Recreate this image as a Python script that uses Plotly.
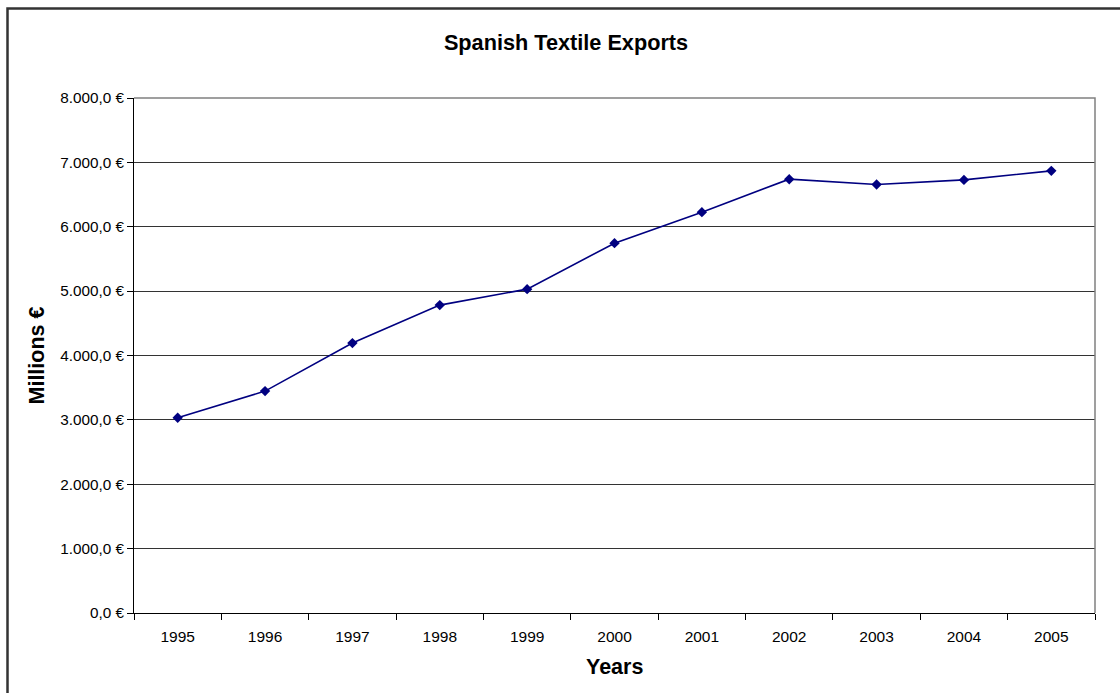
import plotly.graph_objects as go

years = ["1995", "1996", "1997", "1998", "1999", "2000", "2001", "2002", "2003", "2004", "2005"]
exports = [3033, 3447, 4193, 4783, 5031, 5745, 6227, 6739, 6657, 6728, 6868]
y_ticks = [0, 1000, 2000, 3000, 4000, 5000, 6000, 7000, 8000]


def eur(v):
    s = f"{v:,.1f}"  # 8,000.0
    s = s.replace(",", "X").replace(".", ",").replace("X", ".")
    return s + " €"


y_ticktext = [eur(v) for v in y_ticks]

W, H = 1120, 693
L, R, T, B = 134, 25, 98, 80
pw, ph = W - L - R, H - T - B


def px_x(p):
    return (p - L) / pw


def px_y(p):
    return (H - B - p) / ph


font = "Liberation Sans, Arial, sans-serif"

fig = go.Figure()
fig.add_trace(go.Scatter(
    x=years, y=exports, mode="lines+markers",
    line=dict(color="#000080", width=1.6),
    marker=dict(symbol="diamond", size=8, color="#000080"),
    showlegend=False,
))

fig.update_layout(
    width=W, height=H,
    margin=dict(l=L, r=R, t=T, b=B),
    paper_bgcolor="white", plot_bgcolor="white",
    font=dict(family=font, size=15, color="black"),
    title=dict(text="<b>Spanish Textile Exports</b>", x=566 / W, xanchor="center",
               xref="container", yref="container", y=1 - 42 / H, yanchor="middle",
               font=dict(size=21.7, family=font, color="black")),
    xaxis=dict(type="category", range=[-0.5, 10.5], showgrid=False,
               showline=True, linecolor="black", linewidth=1,
               ticks="outside", ticklen=6, tickcolor="black", tickson="boundaries",
               ticklabelstandoff=9,
               tickfont=dict(size=15.5, family=font, color="black"), zeroline=False,
               fixedrange=True),
    yaxis=dict(range=[0, 8000], tickvals=y_ticks, ticktext=y_ticktext,
               showgrid=True, gridcolor="#333333", gridwidth=1,
               showline=True, linecolor="black", linewidth=1,
               ticks="outside", ticklen=6, tickcolor="black",
               tickfont=dict(size=15.3, family=font, color="black"), zeroline=False,
               fixedrange=True),
    shapes=[
        # gray plot-area border (top & right)
        dict(type="path", xref="paper", yref="paper",
             path="M 0,1 L 1,1 L 1,0", line=dict(color="#808080", width=1.5), layer="above"),
        # outer chart border
        dict(type="rect", xref="paper", yref="paper",
             x0=px_x(7.5), x1=px_x(1130), y0=px_y(705), y1=px_y(8.5),
             line=dict(color="#333333", width=2.5), fillcolor="rgba(0,0,0,0)", layer="above"),
    ],
    annotations=[
        dict(text="<b>Years</b>", xref="paper", yref="paper", x=0.5, y=px_y(667),
             xanchor="center", yanchor="middle", showarrow=False,
             font=dict(size=21.5, family=font, color="black")),
        dict(text="<b>Millions €</b>", xref="paper", yref="paper", x=px_x(36), y=0.5,
             xanchor="center", yanchor="middle", showarrow=False, textangle=-90,
             font=dict(size=21.5, family=font, color="black")),
    ],
)

fig.write_html("out.html")
